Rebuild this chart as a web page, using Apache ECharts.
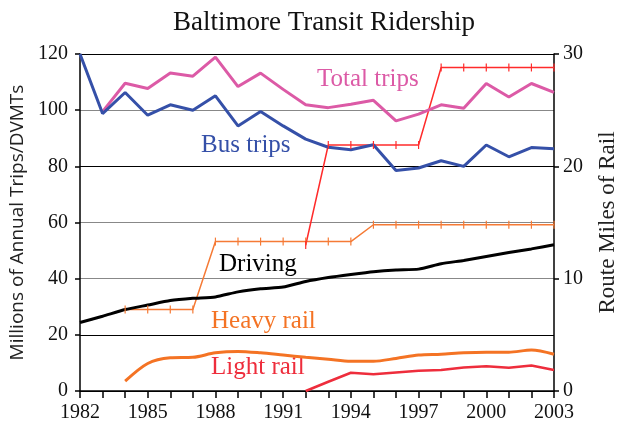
<!DOCTYPE html>
<html>
<head>
<meta charset="utf-8">
<script src="https://cdn.jsdelivr.net/npm/echarts@6/dist/echarts.min.js"></script>
<style>
  html, body { margin: 0; padding: 0; background: #fff; }
  #chart { width: 623px; height: 427px; }
</style>
</head>
<body>
<div id="chart"></div>
<script>
// years on the x axis
var years = [];
for (var y = 1982; y <= 2003; y++) years.push(String(y));

// millions of annual trips / DVMTs (left axis)
var busTrips   = [120, 98.8, 106.3, 98.2, 101.9, 100.0, 105.1, 94.4, 99.5, 94.4, 89.7, 86.8, 85.9, 87.7, 78.5, 79.4, 82.0, 80.0, 87.6, 83.4, 86.7, 86.3];
var totalTrips = [null, 99.5, 109.6, 107.7, 113.2, 112.1, 118.9, 108.4, 113.2, 107.4, 101.9, 100.9, 102.1, 103.5, 96.2, 98.6, 101.9, 100.7, 109.5, 104.7, 109.5, 106.3];
var driving    = [24.4, 26.6, 29.0, 30.6, 32.2, 33.0, 33.5, 35.3, 36.4, 37.0, 39.0, 40.4, 41.5, 42.5, 43.1, 43.4, 45.3, 46.5, 47.9, 49.3, 50.6, 52.1];
var heavyRail  = [null, null, 3.5, 9.8, 11.8, 12.0, 13.6, 14.1, 13.6, 12.8, 12.0, 11.3, 10.6, 10.6, 11.6, 12.8, 13.1, 13.6, 13.8, 13.8, 14.6, 13.1];
var lightRail  = [null, null, null, null, null, null, null, null, null, null, 0, 3.3, 6.5, 6.0, 6.6, 7.2, 7.5, 8.4, 8.8, 8.3, 9.1, 7.5];

// route miles of rail (right axis)
var heavyMiles = [null, null, 7.25, 7.25, 7.25, 7.25, 13.3, 13.3, 13.3, 13.3, 13.3, 13.3, 13.3, 14.8, 14.8, 14.8, 14.8, 14.8, 14.8, 14.8, 14.8, 14.8];
var totalMiles = [null, null, null, null, null, null, null, null, null, null, 13.0, 21.9, 21.9, 21.9, 21.9, 21.9, 28.8, 28.8, 28.8, 28.8, 28.8, 28.8];

var leftTicks = [0, 20, 40, 60, 80, 100, 120];
var rightTicks = [0, 10, 20, 30];

var serif = '"Liberation Serif", "DejaVu Serif", serif';
var chart = echarts.init(document.getElementById('chart'));

var option = {
  animation: false,
  title: {
    text: 'Baltimore Transit Ridership',
    left: 168,
    top: 4,
    textStyle: { fontFamily: serif, fontSize: 27, fontWeight: 'normal', color: '#111' }
  },
  grid: { left: 80, right: 69, top: 54, bottom: 36, outerBoundsMode: 'none' },
  xAxis: {
    type: 'category',
    data: years,
    boundaryGap: false,
    axisLine: { lineStyle: { color: '#000', width: 1.5 } },
    axisTick: { interval: 0, length: 7, lineStyle: { color: '#000', width: 1.5 } },
    axisLabel: { interval: 2, color: '#111', fontFamily: serif, fontSize: 20, margin: 12 }
  },
  yAxis: [
    {
      type: 'value',
      min: leftTicks[0], max: leftTicks[leftTicks.length - 1], interval: 20,
      name: 'Millions of Annual Trips/DVMTs',
      nameLocation: 'middle', nameRotate: 90, nameGap: 53,
      nameTextStyle: { fontFamily: '"Open Sans", sans-serif', fontSize: 19, color: '#222' },
      axisLine: { show: true, lineStyle: { color: '#000', width: 1.5 } },
      axisTick: { show: true, length: 5, lineStyle: { color: '#000', width: 1.5 } },
      axisLabel: { color: '#111', fontFamily: serif, fontSize: 20, margin: 12 },
      splitLine: { lineStyle: { color: ['#000', '#000', '#888', '#888', '#000', '#888', '#000'], width: 1.2 } }
    },
    {
      type: 'value',
      min: rightTicks[0], max: rightTicks[rightTicks.length - 1], interval: 10,
      position: 'right',
      name: 'Route Miles of Rail',
      nameLocation: 'middle', nameRotate: 90, nameGap: 42,
      nameTextStyle: { fontFamily: serif, fontSize: 23, color: '#222' },
      axisLine: { show: true, lineStyle: { color: '#000', width: 1.5 } },
      axisTick: { show: true, length: 5, lineStyle: { color: '#000', width: 1.5 } },
      axisLabel: { color: '#111', fontFamily: serif, fontSize: 20, margin: 9 },
      splitLine: { show: false }
    }
  ],
  series: [
    { name: 'Heavy rail miles', type: 'line', yAxisIndex: 1, data: heavyMiles,
      symbol: 'rect', symbolSize: [1.2, 8], showAllSymbol: true,
      itemStyle: { color: '#f57a35' }, lineStyle: { color: '#f57a35', width: 1.5 } },
    { name: 'Total rail miles', type: 'line', yAxisIndex: 1, data: totalMiles,
      symbol: 'rect', symbolSize: [1.2, 8], showAllSymbol: true,
      itemStyle: { color: '#ff2b2b' }, lineStyle: { color: '#ff2b2b', width: 1.5 } },
    { name: 'Driving', type: 'line', data: driving, symbol: 'none', smooth: 0.2,
      lineStyle: { color: '#000', width: 3 } },
    { name: 'Heavy rail', type: 'line', data: heavyRail, symbol: 'none', smooth: 0.3,
      lineStyle: { color: '#f47324', width: 3 } },
    { name: 'Light rail', type: 'line', data: lightRail, symbol: 'none',
      lineStyle: { color: '#ee2d3c', width: 2.5 } },
    { name: 'Total trips', type: 'line', data: totalTrips, symbol: 'none',
      lineStyle: { color: '#dc5aa6', width: 3 } },
    { name: 'Bus trips', type: 'line', data: busTrips, symbol: 'none',
      lineStyle: { color: '#3550a8', width: 3 } }
  ],
  graphic: [
    { type: 'text', x: 317, y: 67, style: { text: 'Total trips', fill: '#dc5aa6', font: '25px ' + serif } },
    { type: 'text', x: 201, y: 133, style: { text: 'Bus trips', fill: '#3550a8', font: '25px ' + serif } },
    { type: 'text', x: 219, y: 252, style: { text: 'Driving', fill: '#000', font: '25px ' + serif } },
    { type: 'text', x: 211, y: 309, style: { text: 'Heavy rail', fill: '#f47324', font: '25px ' + serif } },
    { type: 'text', x: 211, y: 355, style: { text: 'Light rail', fill: '#ee2d3c', font: '25px ' + serif } }
  ]
};

chart.setOption(option);
</script>
</body>
</html>
